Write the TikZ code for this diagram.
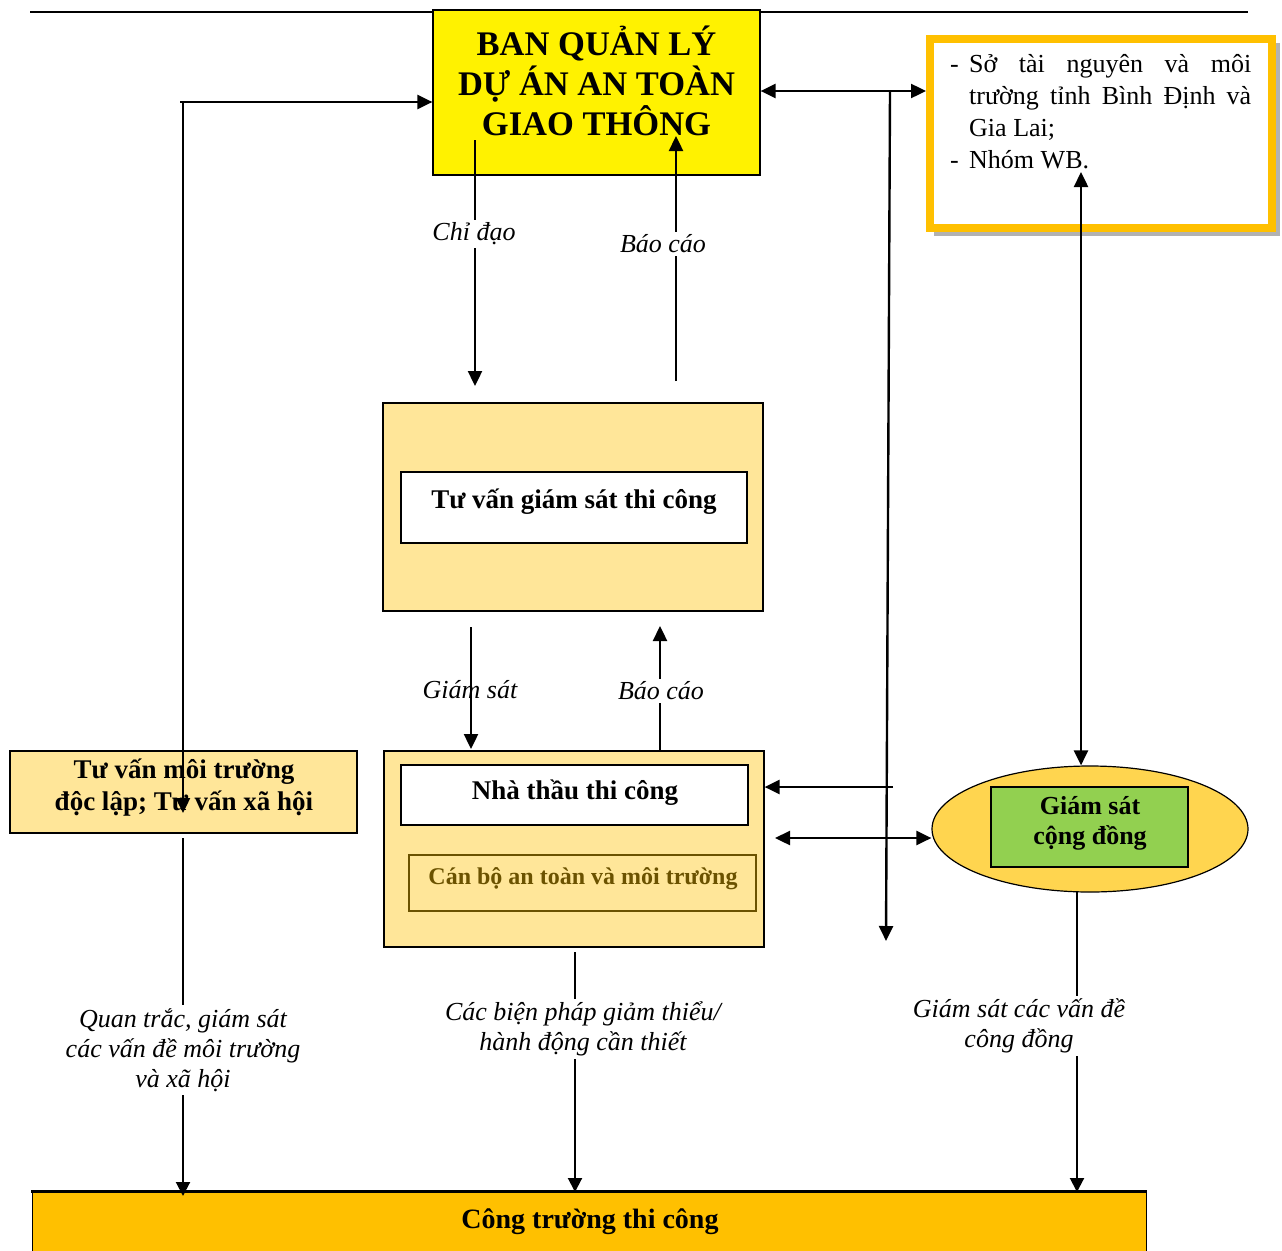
\documentclass[tikz,border=0pt]{standalone}
\usepackage{fontspec}
\setmainfont{Liberation Serif}
\usetikzlibrary{arrows.meta,shapes.geometric}
\definecolor{wheat}{HTML}{FFE699}
\definecolor{ellfill}{HTML}{FFD54F}
\definecolor{grn}{HTML}{92D050}
\definecolor{orng}{HTML}{FFC000}
\definecolor{brn}{HTML}{6B5200}
\begin{document}
\begin{tikzpicture}[x=1pt,y=-1pt,
  conn/.style={line width=2.4pt,-{Triangle[length=15pt,width=14pt]}},
  dconn/.style={line width=2.4pt,{Triangle[length=15pt,width=14pt]}-{Triangle[length=15pt,width=14pt]}},
  thinconn/.style={line width=2pt,-{Triangle[length=14pt,width=14pt]}},
  box/.style={draw,line width=1.2pt,inner sep=0pt},
  boldtxt/.style={font=\bfseries\fontsize{27}{32}\selectfont,align=center,inner sep=0pt},
  lab/.style={font=\itshape\fontsize{26}{30}\selectfont,align=center,inner sep=3pt},
  wlab/.style={lab,fill=white},
  rtxt/.style={font=\fontsize{26}{32}\selectfont,anchor=base west,inner sep=0pt}]
\useasboundingbox (0,0) rectangle (1282,1250);
\fill[white] (0,0) rectangle (1282,1250);

% top rule
\draw[line width=2.5pt] (30,12) -- (1248,12);

% BQL box
\node[box,fill=yellow,minimum width=327pt,minimum height=165pt] (bql) at (596.5,92.5) {};
\node[font=\bfseries\fontsize{34.5}{40}\selectfont,align=center,inner sep=0pt] (bqltxt) at (596.5,81) {BAN QUẢN LÝ\\DỰ ÁN AN TOÀN\\GIAO THÔNG};

% right box with shadow
\fill[gray!60] (934,43) rectangle (1280,236);
\node[draw=orng,line width=8pt,fill=white,minimum width=342pt,minimum height=189pt,inner sep=0pt] (rbox) at (1101,133.5) {};
\node[rtxt] (r0a) at (950,72) {-};
\node[rtxt] (r1) at (969,72) {\makebox[282pt][s]{Sở tài nguyên và môi}};
\node[rtxt] (r2) at (969,104) {\makebox[282pt][s]{trường tỉnh Bình Định và}};
\node[rtxt] (r3) at (969,136) {Gia Lai;};
\node[rtxt] (r0b) at (950,168) {-};
\node[rtxt] (r4) at (969,168) {Nhóm WB.};

% TVGS box
\node[box,fill=wheat,minimum width=380pt,minimum height=208pt] (tvgs) at (573,507) {};
\node[box,fill=white,minimum width=346pt,minimum height=71pt] (tvgsin) at (574,507.5) {};
\node[boldtxt] (tvgstxt) at (574,502) {Tư vấn giám sát thi công};

% contractor box
\node[box,fill=wheat,minimum width=380pt,minimum height=196pt] (nt) at (574,849) {};
\node[box,fill=white,minimum width=347pt,minimum height=60pt] (ntin) at (574.5,795) {};
\node[boldtxt] (nttxt) at (575,793) {Nhà thầu thi công};
\node[draw=brn,line width=1.2pt,fill=wheat,minimum width=347pt,minimum height=56pt,inner sep=0pt] (cb) at (582.5,883) {};
\node[boldtxt,text=brn,font=\bfseries\fontsize{24}{28}\selectfont] (cbtxt) at (583,879) {Cán bộ an toàn và môi trường};

% left box
\node[box,fill=wheat,minimum width=347pt,minimum height=82pt] (lbox) at (183.5,792) {};
\node[boldtxt,font=\bfseries\fontsize{27}{32}\selectfont] (lboxtxt) at (184,788) {Tư vấn môi trường\\độc lập; Tư vấn xã hội};

% ellipse
\node[ellipse,draw,line width=1.2pt,fill=ellfill,minimum width=316pt,minimum height=126pt,inner sep=0pt] (ell) at (1090,829) {};
\node[box,fill=grn,minimum width=197pt,minimum height=80pt] (gs) at (1089.5,827) {};
\node[boldtxt,font=\bfseries\fontsize{26}{30}\selectfont] (gstxt) at (1090,823) {Giám sát\\cộng đồng};

% bottom box
\fill[orng] (32,1191) rectangle (1146,1260);
\draw[line width=1pt] (32,1260) -- (32,1191) (1146,1191) -- (1146,1260);
\draw[line width=3pt] (31,1191) -- (1147,1191);
\node[boldtxt,font=\bfseries\fontsize{28}{32}\selectfont] (ct) at (590,1222) {Công trường thi công};

% coordinates
\coordinate (lh) at (180,102);
\coordinate (lvtop) at (183,102);
\coordinate (lvbot) at (183,813);
\coordinate (vtop) at (890,91);
\coordinate (vbot) at (886,941);
\coordinate (hA) at (893,787);
\coordinate (dL) at (775,838);
\coordinate (wbpt) at (1081,172);
\coordinate (cdtop) at (475,140);
\coordinate (cdbot) at (475,386);
\coordinate (bc1bot) at (676,381);
\coordinate (bc1top) at (676,136);
\coordinate (gstop) at (471,627);
\coordinate (gsbot) at (471,749);
\coordinate (bc2bot) at (660,750);
\coordinate (bc2top) at (660,626);
\coordinate (q1) at (183,838);
\coordinate (q2) at (183,1196);
\coordinate (b1) at (575,952);
\coordinate (b2) at (575,1192);
\coordinate (c1) at (1077,892);
\coordinate (c2) at (1077,1192);

% connectors
\draw[conn] (lh) -- (lh -| bql.west);
\draw[conn] (lvtop) -- (lvbot);
\draw[dconn] (bql.east |- vtop) -- (rbox.west |- vtop);
\draw[conn] (vtop) -- (vbot);
\draw[conn] (hA) -- (hA -| nt.east);
\draw[dconn] (dL) -- (dL -| ell.west);
\draw[dconn] (wbpt) -- (wbpt |- ell.north);

\draw[conn] (cdtop) -- (cdbot);
\node[wlab] (cdlab) at (474,234) {Chỉ đạo};
\draw[conn] (bc1bot) -- (bc1top);
\node[wlab] (bc1lab) at (663,244) {Báo cáo};
\draw[conn] (gstop) -- (gsbot);
\node[lab] (gslab) at (470,690) {Giám sát};
\draw[conn] (bc2bot) -- (bc2top);
\node[wlab] (bc2lab) at (661,691) {Báo cáo};

\draw[thinconn] (q1) -- (q2);
\node[wlab] (qlab) at (183,1050) {Quan trắc, giám sát\\các vấn đề môi trường\\và xã hội};
\draw[thinconn] (b1) -- (b2);
\node[wlab] (blab) at (583,1029) {Các biện pháp giảm thiểu/\\hành động cần thiết};
\draw[thinconn] (c1) -- (c2);
\node[wlab] (clab) at (1019,1026) {Giám sát các vấn đề\\công đồng};
\end{tikzpicture}
\end{document}
